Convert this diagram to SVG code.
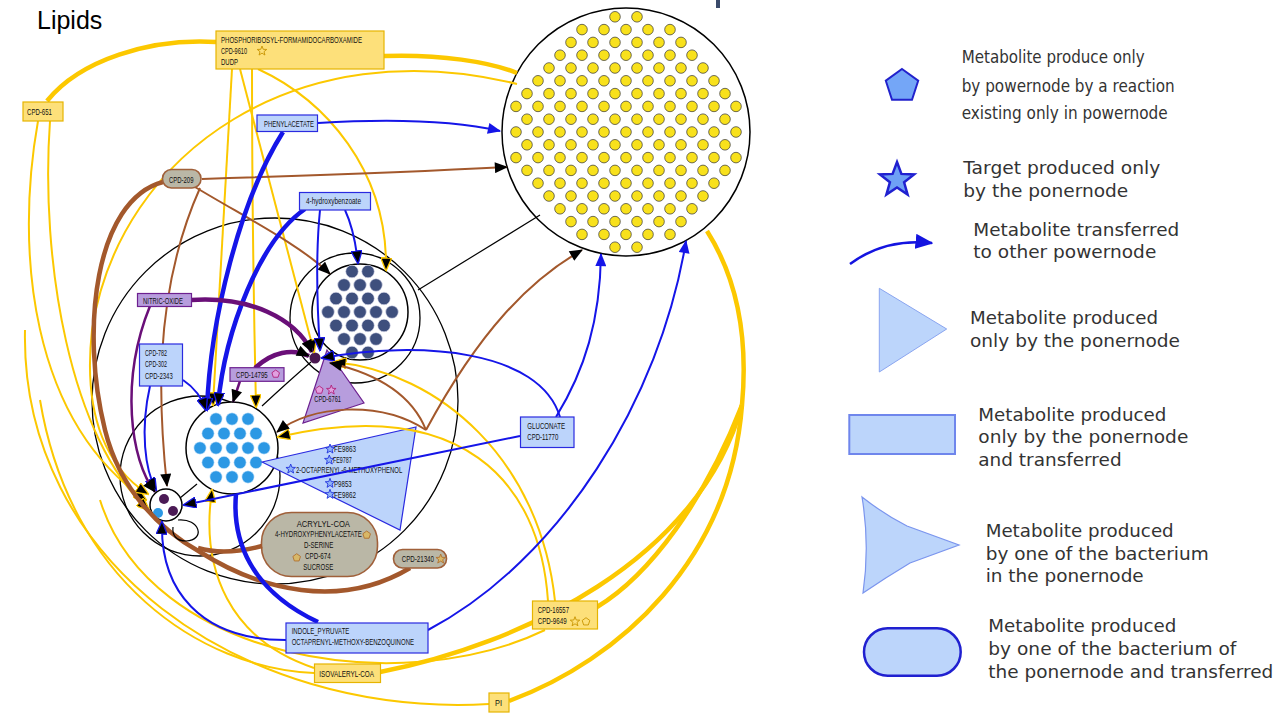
<svg xmlns="http://www.w3.org/2000/svg" width="1285" height="717" viewBox="0 0 1285 717">
<defs>
<style>
.t{font-family:"Liberation Sans",Arial,sans-serif;font-size:8.5px;fill:#111}
.lg{font-family:"DejaVu Sans",Verdana,sans-serif;font-size:17px;fill:#333}
.yb{fill:#fde07a;stroke:#e6b400;stroke-width:1.2}
.bb{fill:#bcd4fb;stroke:#2a2ae0;stroke-width:1.2}
.pb{fill:#b79ddd;stroke:#6d2090;stroke-width:1.2}
.gb{fill:#bab7a6;stroke:#a0603a;stroke-width:1.6}
.ring{fill:none;stroke:#000;stroke-width:1.3}
.yd{r:5.3px;fill:#f8e11c;stroke:#333;stroke-width:0.7}
.dd{r:6.3px;fill:#3e4f7d;stroke:#dde;stroke-width:0.6}
.ld{r:6.2px;fill:#2c98e4;stroke:#e8f4ff;stroke-width:0.6}
#edges path{fill:none}
.y{stroke:#fcc800;stroke-width:2}
.Y{stroke:#fcc800;stroke-width:4.5}
.b{stroke:#1515e8;stroke-width:2}
.B{stroke:#1515e8;stroke-width:4.5}
.r{stroke:#a3582c;stroke-width:2}
.R{stroke:#a3582c;stroke-width:4.5}
.p{stroke:#6a0f78;stroke-width:2.5}
.P{stroke:#6a0f78;stroke-width:4.5}
.k{stroke:#000;stroke-width:1.2}
.sY{fill:#fde07a;stroke:#c89400;stroke-width:0.9}
.sM{fill:#e0a0e0;stroke:#b0207a;stroke-width:0.9}
.sB{fill:#8fb3f7;stroke:#2233dd;stroke-width:0.9}
.sT{fill:#d8b868;stroke:#b07030;stroke-width:0.9}
</style>
<marker id="aY" viewBox="0 0 12 10" refX="11" refY="5" markerWidth="14" markerHeight="11" markerUnits="userSpaceOnUse" orient="auto"><path d="M0,0L12,5L0,10z" fill="#000" stroke="#fcc800" stroke-width="1.2"/></marker>
<marker id="aK" viewBox="0 0 12 10" refX="11" refY="5" markerWidth="14" markerHeight="11" markerUnits="userSpaceOnUse" orient="auto"><path d="M0,0L12,5L0,10z" fill="#000"/></marker>
<marker id="aB" viewBox="0 0 12 10" refX="11" refY="5" markerWidth="14" markerHeight="11" markerUnits="userSpaceOnUse" orient="auto"><path d="M0,0L12,5L0,10z" fill="#1515e8"/></marker>
<marker id="aBK" viewBox="0 0 12 10" refX="11" refY="5" markerWidth="14" markerHeight="11" markerUnits="userSpaceOnUse" orient="auto"><path d="M0,0L12,5L0,10z" fill="#000" stroke="#1515e8" stroke-width="1.2"/></marker>
<marker id="aL" viewBox="0 0 12 10" refX="11" refY="5" markerWidth="18" markerHeight="15" markerUnits="userSpaceOnUse" orient="auto"><path d="M0,0L12,5L0,10z" fill="#1414e0"/></marker>
<path id="st" d="M0,-5L1.23,-1.7L4.76,-1.55L2,0.65L2.94,4.05L0,2.1L-2.94,4.05L-2,0.65L-4.76,-1.55L-1.23,-1.7Z"/>
<path id="pg" d="M0,-4L3.8,-1.24L2.35,3.24L-2.35,3.24L-3.8,-1.24Z"/>
<g id="E5"><circle class="yd" cx="582"/><circle class="yd" cx="604"/><circle class="yd" cx="626"/><circle class="yd" cx="648"/><circle class="yd" cx="670"/></g>
<g id="E7"><use href="#E5"/><circle class="yd" cx="560"/><circle class="yd" cx="692"/></g>
<g id="E9"><use href="#E7"/><circle class="yd" cx="538"/><circle class="yd" cx="714"/></g>
<g id="E11"><use href="#E9"/><circle class="yd" cx="516"/><circle class="yd" cx="736"/></g>
<g id="O2"><circle class="yd" cx="615"/><circle class="yd" cx="637"/></g>
<g id="O6"><use href="#O2"/><circle class="yd" cx="571"/><circle class="yd" cx="593"/><circle class="yd" cx="659"/><circle class="yd" cx="681"/></g>
<g id="O8"><use href="#O6"/><circle class="yd" cx="549"/><circle class="yd" cx="703"/></g>
<g id="O10"><use href="#O8"/><circle class="yd" cx="527"/><circle class="yd" cx="725"/></g>
</defs>
<rect width="1285" height="717" fill="#fff"/>
<text x="37" y="29" font-family="Liberation Sans,Arial,sans-serif" font-size="25" fill="#000">Lipids</text>
<rect x="716" y="0" width="4" height="8" fill="#3a4a6a"/>

<g id="rings">
<circle class="ring" cx="275" cy="401" r="183"/>
<circle class="ring" cx="355" cy="318" r="65"/>
<circle class="ring" cx="200" cy="476" r="80"/>
</g>

<g id="powernode-lipids">
<circle cx="626" cy="132" r="124" fill="#fff" stroke="#000" stroke-width="1.5"/>
<use href="#O2" y="16.8"/><use href="#E5" y="29.6"/><use href="#O6" y="42.4"/><use href="#E7" y="55.2"/><use href="#O8" y="68"/><use href="#E9" y="80.8"/><use href="#O10" y="93.6"/><use href="#E11" y="106.4"/><use href="#O10" y="119.2"/><use href="#E11" y="132"/><use href="#O10" y="144.8"/><use href="#E11" y="157.6"/><use href="#O10" y="170.4"/><use href="#E9" y="183.2"/><use href="#O8" y="196"/><use href="#E7" y="208.8"/><use href="#O6" y="221.6"/><use href="#E5" y="234.4"/><use href="#O2" y="247.2"/>
</g>

<g id="powernode-dark">
<circle cx="360" cy="312" r="48" fill="#fff" stroke="#000" stroke-width="1.5"/>
<circle class="dd" cx="352" cy="271.5"/><circle class="dd" cx="368" cy="271.5"/>
<circle class="dd" cx="344" cy="285"/><circle class="dd" cx="360" cy="285"/><circle class="dd" cx="376" cy="285"/>
<circle class="dd" cx="336" cy="298.5"/><circle class="dd" cx="352" cy="298.5"/><circle class="dd" cx="368" cy="298.5"/><circle class="dd" cx="384" cy="298.5"/>
<circle class="dd" cx="328" cy="312"/><circle class="dd" cx="344" cy="312"/><circle class="dd" cx="360" cy="312"/><circle class="dd" cx="376" cy="312"/><circle class="dd" cx="392" cy="312"/>
<circle class="dd" cx="336" cy="325.5"/><circle class="dd" cx="352" cy="325.5"/><circle class="dd" cx="368" cy="325.5"/><circle class="dd" cx="384" cy="325.5"/>
<circle class="dd" cx="344" cy="339"/><circle class="dd" cx="360" cy="339"/><circle class="dd" cx="376" cy="339"/>
<circle class="dd" cx="352" cy="352.5"/><circle class="dd" cx="368" cy="352.5"/>
</g>

<g id="powernode-blue">
<circle cx="232" cy="448" r="46" fill="#fff" stroke="#000" stroke-width="1.5"/>
<circle class="ld" cx="216" cy="419"/><circle class="ld" cx="232" cy="419"/><circle class="ld" cx="248" cy="419"/>
<circle class="ld" cx="208" cy="433.5"/><circle class="ld" cx="224" cy="433.5"/><circle class="ld" cx="240" cy="433.5"/><circle class="ld" cx="256" cy="433.5"/>
<circle class="ld" cx="200" cy="448"/><circle class="ld" cx="216" cy="448"/><circle class="ld" cx="232" cy="448"/><circle class="ld" cx="248" cy="448"/><circle class="ld" cx="264" cy="448"/>
<circle class="ld" cx="208" cy="462.5"/><circle class="ld" cx="224" cy="462.5"/><circle class="ld" cx="240" cy="462.5"/><circle class="ld" cx="256" cy="462.5"/>
<circle class="ld" cx="216" cy="477"/><circle class="ld" cx="232" cy="477"/><circle class="ld" cx="248" cy="477"/>
</g>

<g id="powernode-small">
<circle cx="166" cy="505" r="16" fill="#fff" stroke="#000" stroke-width="1.5"/>
<circle cx="164" cy="499" r="5" fill="#4b1a55"/>
<circle cx="173" cy="511" r="5" fill="#4b1a55"/>
<circle cx="158" cy="513" r="5" fill="#2c98e4"/>
</g>

<g id="junction"><circle cx="315" cy="358" r="5.5" fill="#4a1750"/></g>

<g id="tri-cpd6761">
<polygon points="327,350 303,423 364,403" class="pb"/>
<use href="#pg" x="319.3" y="390" class="sM"/><use href="#st" x="331.3" y="390" class="sM"/>
<text class="t" x="314.3" y="401.7" textLength="26.7" lengthAdjust="spacingAndGlyphs">CPD-6761</text>
</g>

<g id="tri-octaprenyl">
<polygon points="262,462 416,427 400,530" class="bb" stroke-width="1.5"/>
<use href="#st" x="330" y="449" class="sB"/><text class="t" x="334" y="451.7" textLength="22" lengthAdjust="spacingAndGlyphs">FE9863</text>
<use href="#st" x="329.3" y="460" class="sB"/><text class="t" x="333" y="463.3" textLength="18.7" lengthAdjust="spacingAndGlyphs">FE9787</text>
<use href="#st" x="290.7" y="469" class="sB"/><text class="t" x="296" y="472.7" textLength="106.3" lengthAdjust="spacingAndGlyphs">2-OCTAPRENYL-6-METHOXYPHENOL</text>
<use href="#st" x="330" y="483.3" class="sB"/><text class="t" x="334" y="486.7" textLength="17.7" lengthAdjust="spacingAndGlyphs">P9853</text>
<use href="#st" x="330" y="494.3" class="sB"/><text class="t" x="334" y="497.7" textLength="22" lengthAdjust="spacingAndGlyphs">FE9862</text>
</g>

<g id="node-acrylyl">
<rect x="261.5" y="512.5" width="116" height="64" rx="30" class="gb"/>
<text class="t" x="296.7" y="526.7" textLength="53.3" lengthAdjust="spacingAndGlyphs">ACRYLYL-COA</text>
<text class="t" x="275" y="537.3" textLength="86.7" lengthAdjust="spacingAndGlyphs">4-HYDROXYPHENYLACETATE</text>
<use href="#pg" x="366.7" y="535" class="sT"/>
<text class="t" x="304" y="548.3" textLength="29.3" lengthAdjust="spacingAndGlyphs">D-SERINE</text>
<use href="#pg" x="296.7" y="557.7" class="sT"/>
<text class="t" x="305" y="559" textLength="25.7" lengthAdjust="spacingAndGlyphs">CPD-674</text>
<text class="t" x="303.3" y="570.3" textLength="30" lengthAdjust="spacingAndGlyphs">SUCROSE</text>
</g>

<g id="edges">
<path class="Y" d="M47 101C80 60 150 38 216 42"/>
<path class="Y" d="M384 56C440 54 490 62 517 73"/>
<path class="Y" d="M707 231C738 280 748 340 742 405"/>
<path class="Y" d="M742 405C730 560 620 660 509 701"/>
<path class="Y" d="M742 405C700 560 520 645 380 672"/>
<path class="Y" d="M742 405C705 500 650 575 597 607"/>
<path class="y" d="M38 121C15 250 30 420 146 500" marker-end="url(#aY)"/>
<path class="y" d="M50 121C40 260 70 440 149 510" marker-end="url(#aY)"/>
<path class="y" d="M517 84C300 30 120 150 92 330C82 420 110 470 148 494" marker-end="url(#aY)"/>
<path class="y" d="M25 330C20 560 240 718 489 704"/>
<path class="y" d="M40 400C70 580 200 668 314 673"/>
<path class="y" d="M100 500C150 660 400 700 545 630"/>
<path class="y" d="M232 69L213 405" marker-end="url(#aY)"/>
<path class="y" d="M252 69C252 200 254 320 256 407" marker-end="url(#aY)"/>
<path class="y" d="M240 69L314 352" marker-end="url(#aY)"/>
<path class="y" d="M258 69C325 100 388 170 386 270" marker-end="url(#aY)"/>
<path class="y" d="M555 601C540 460 440 372 334 362" marker-end="url(#aY)"/>
<path class="y" d="M548 601C540 480 460 395 278 437" marker-end="url(#aY)"/>
<path class="y" d="M314 668C230 640 200 570 212 490" marker-end="url(#aY)"/>
<path class="r" d="M202 179C330 175 450 170 507 167" marker-end="url(#aK)"/>
<path class="r" d="M195 187C250 220 300 245 330 274" marker-end="url(#aK)"/>
<path class="R" d="M163 182C95 200 80 330 105 430C120 490 160 530 200 552C260 590 340 610 410 568"/>
<path class="r" d="M426 430C480 330 530 280 582 250" marker-end="url(#aK)"/>
<path class="r" d="M426 430C410 390 370 372 330 363" marker-end="url(#aK)"/>
<path class="r" d="M426 430C380 400 310 405 277 432" marker-end="url(#aK)"/>
<path class="R" d="M262 546Q225 556 198 548"/>
<path class="r" d="M200 188C150 300 160 420 167 486" marker-end="url(#aK)"/>
<path class="b" d="M318 123C400 118 460 122 500 131" marker-end="url(#aB)"/>
<path class="B" d="M283 132C240 200 210 320 207 410" marker-end="url(#aBK)"/>
<path class="B" d="M305 209C260 240 225 330 218 405" marker-end="url(#aBK)"/>
<path class="b" d="M345 210C352 225 356 245 358 263" marker-end="url(#aBK)"/>
<path class="b" d="M320 210C315 260 318 320 320 350" marker-end="url(#aBK)"/>
<path class="b" d="M556 417C585 370 600 320 601 254" marker-end="url(#aB)"/>
<path class="b" d="M520 436L184 505" marker-end="url(#aBK)"/>
<path class="b" d="M560 417C540 350 420 340 322 358" marker-end="url(#aBK)"/>
<path class="b" d="M428 630C560 560 660 400 686 241" marker-end="url(#aB)"/>
<path class="B" d="M318 622C250 590 232 540 236 494"/>
<path class="b" d="M286 640C200 640 160 590 162 522" marker-end="url(#aBK)"/>
<path class="b" stroke-width="3" d="M183 380C195 388 202 398 206 410" marker-end="url(#aBK)"/>
<path class="b" d="M150 386C140 430 145 470 156 490" marker-end="url(#aBK)"/>
<path class="P" d="M191 300C250 296 295 318 312 352" marker-end="url(#aK)"/>
<path class="p" d="M150 306C120 380 130 460 155 492" marker-end="url(#aK)"/>
<path class="P" d="M255 368C272 352 292 348 309 356" marker-end="url(#aK)"/>
<path class="p" d="M240 381L233 402" marker-end="url(#aK)"/>
<path class="k" d="M418 290L540 215"/>
<path class="k" d="M311 362Q290 380 262 406"/>
<path class="k" d="M180 498L197 484"/>
<path class="k" d="M178 520C200 518 206 540 186 541C176 541 172 535 173 527"/>
</g>

<g id="node-phosphoribosyl">
<rect x="216" y="31" width="168" height="38" class="yb"/>
<text class="t" x="221" y="43" textLength="141" lengthAdjust="spacingAndGlyphs">PHOSPHORIBOSYL-FORMAMIDOCARBOXAMIDE</text>
<text class="t" x="221" y="54" textLength="26" lengthAdjust="spacingAndGlyphs">CPD-9610</text>
<use href="#st" x="262" y="51" class="sY"/>
<text class="t" x="221" y="65" textLength="17" lengthAdjust="spacingAndGlyphs">DUDP</text>
</g>
<g id="node-cpd651"><rect x="23" y="102" width="40" height="19" class="yb"/><text class="t" x="27" y="115" textLength="25" lengthAdjust="spacingAndGlyphs">CPD-651</text></g>
<g id="node-cpd209"><rect x="162.5" y="169.5" width="38.5" height="18.5" rx="9" class="gb"/><text class="t" x="169" y="182.5" textLength="24.5" lengthAdjust="spacingAndGlyphs">CPD-209</text></g>
<g id="node-phenylacetate"><rect x="257" y="115" width="60.5" height="16.5" class="bb"/><text class="t" x="264" y="126.7" textLength="50" lengthAdjust="spacingAndGlyphs">PHENYLACETATE</text></g>
<g id="node-4hb"><rect x="299.5" y="192.5" width="71" height="17.5" class="bb"/><text class="t" x="306" y="204.3" textLength="55" lengthAdjust="spacingAndGlyphs">4-hydroxybenzoate</text></g>
<g id="node-nitric"><rect x="137.5" y="293.5" width="54" height="13" class="pb"/><text class="t" x="143" y="303.5" textLength="40" lengthAdjust="spacingAndGlyphs">NITRIC-OXIDE</text></g>
<g id="node-cpd782"><rect x="139.5" y="344" width="43" height="42" class="bb"/>
<text class="t" x="145" y="356" textLength="22" lengthAdjust="spacingAndGlyphs">CPD-782</text>
<text class="t" x="145" y="367.3" textLength="22" lengthAdjust="spacingAndGlyphs">CPD-302</text>
<text class="t" x="145" y="378.7" textLength="27.7" lengthAdjust="spacingAndGlyphs">CPD-2343</text></g>
<g id="node-cpd14795"><rect x="230" y="367.7" width="54" height="13.6" class="pb"/><text class="t" x="236" y="378.3" textLength="31.7" lengthAdjust="spacingAndGlyphs">CPD-14795</text><use href="#pg" x="275.7" y="374" class="sM"/></g>
<g id="node-cpd21340"><rect x="393.5" y="549.5" width="53" height="18.5" rx="9" class="gb"/><text class="t" x="401.7" y="561.7" textLength="32.3" lengthAdjust="spacingAndGlyphs">CPD-21340</text><use href="#st" x="440.7" y="559" class="sT"/></g>
<g id="node-gluconate"><rect x="520.5" y="417" width="53.5" height="30.5" class="bb"/>
<text class="t" x="527.3" y="429" textLength="37.7" lengthAdjust="spacingAndGlyphs">GLUCONATE</text>
<text class="t" x="527.3" y="440" textLength="31" lengthAdjust="spacingAndGlyphs">CPD-11770</text></g>
<g id="node-indole"><rect x="286" y="623" width="142" height="30" class="bb"/>
<text class="t" x="291.7" y="634.3" textLength="57.7" lengthAdjust="spacingAndGlyphs">INDOLE_PYRUVATE</text>
<text class="t" x="291.7" y="645" textLength="122.3" lengthAdjust="spacingAndGlyphs">OCTAPRENYL-METHOXY-BENZOQUINONE</text></g>
<g id="node-isovaleryl"><rect x="314.5" y="664" width="66" height="18.5" class="yb"/><text class="t" x="319.3" y="676.7" textLength="54.7" lengthAdjust="spacingAndGlyphs">ISOVALERYL-COA</text></g>
<g id="node-cpd16557"><rect x="532.5" y="601" width="65" height="28" class="yb"/>
<text class="t" x="537.7" y="613.3" textLength="31.3" lengthAdjust="spacingAndGlyphs">CPD-16557</text>
<text class="t" x="537.7" y="624.3" textLength="29" lengthAdjust="spacingAndGlyphs">CPD-9649</text>
<use href="#st" x="575" y="621.7" class="sY"/><use href="#pg" x="586" y="621.7" class="sY"/></g>
<g id="node-pi"><rect x="489" y="693" width="20" height="19" class="yb"/><text class="t" x="495" y="706" textLength="7" lengthAdjust="spacingAndGlyphs">PI</text></g>

<g id="legend">
<polygon points="902,69 918.2,80.7 912,99.8 892,99.8 885.8,80.7" fill="#74a6f7" stroke="#2222cc" stroke-width="2"/>
<text class="lg" x="961.7" y="63.3" textLength="183" lengthAdjust="spacingAndGlyphs">Metabolite produce only</text>
<text class="lg" x="961.7" y="91.7" textLength="213" lengthAdjust="spacingAndGlyphs">by powernode by a reaction</text>
<text class="lg" x="961.7" y="119.3" textLength="206" lengthAdjust="spacingAndGlyphs">existing only in powernode</text>
<polygon points="897,162 901.4,173.9 914.1,174.4 904.1,182.3 907.6,194.6 897,187.5 886.4,194.6 889.9,182.3 879.9,174.4 892.6,173.9" fill="#6ea0f5" stroke="#2020d0" stroke-width="2.5"/>
<text class="lg" x="963.3" y="174" textLength="197" lengthAdjust="spacingAndGlyphs">Target produced only</text>
<text class="lg" x="963.3" y="196.7" textLength="165" lengthAdjust="spacingAndGlyphs">by the ponernode</text>
<path d="M850 264Q885 238 932 243" fill="none" stroke="#1414e0" stroke-width="2.5" marker-end="url(#aL)"/>
<text class="lg" x="973.3" y="236" textLength="206" lengthAdjust="spacingAndGlyphs">Metabolite transferred</text>
<text class="lg" x="973.3" y="258.3" textLength="183" lengthAdjust="spacingAndGlyphs">to other powernode</text>
<polygon points="879.3,288.3 946.7,329 879.3,372" fill="#bcd5fb" stroke="#8aa5f0" stroke-width="1"/>
<text class="lg" x="970" y="324.3" textLength="188" lengthAdjust="spacingAndGlyphs">Metabolite produced</text>
<text class="lg" x="970" y="346.7" textLength="210" lengthAdjust="spacingAndGlyphs">only by the ponernode</text>
<rect x="849.3" y="415" width="105.7" height="39" fill="#bcd5fb" stroke="#6f86ec" stroke-width="2"/>
<text class="lg" x="978.3" y="420.7" textLength="188" lengthAdjust="spacingAndGlyphs">Metabolite produced</text>
<text class="lg" x="978.3" y="443.3" textLength="210" lengthAdjust="spacingAndGlyphs">only by the ponernode</text>
<text class="lg" x="978.3" y="466" textLength="143.3" lengthAdjust="spacingAndGlyphs">and transferred</text>
<path d="M862 497Q885 515 907 526L959 545L910 563Q885 578 863 593Q870 545 862 497Z" fill="#bcd5fb" stroke="#7b95ee" stroke-width="1.2"/>
<text class="lg" x="985.7" y="536.7" textLength="188" lengthAdjust="spacingAndGlyphs">Metabolite produced</text>
<text class="lg" x="985.7" y="560" textLength="223" lengthAdjust="spacingAndGlyphs">by one of the bacterium</text>
<text class="lg" x="985.7" y="581.7" textLength="158" lengthAdjust="spacingAndGlyphs">in the ponernode</text>
<rect x="864" y="628.3" width="96.7" height="47.4" rx="23.7" fill="#bcd5fb" stroke="#2020d0" stroke-width="2.5"/>
<text class="lg" x="988.3" y="632.3" textLength="188" lengthAdjust="spacingAndGlyphs">Metabolite produced</text>
<text class="lg" x="988.3" y="655" textLength="248" lengthAdjust="spacingAndGlyphs">by one of the bacterium of</text>
<text class="lg" x="988.3" y="677.7" textLength="285" lengthAdjust="spacingAndGlyphs">the ponernode and transferred</text>
</g>
</svg>
